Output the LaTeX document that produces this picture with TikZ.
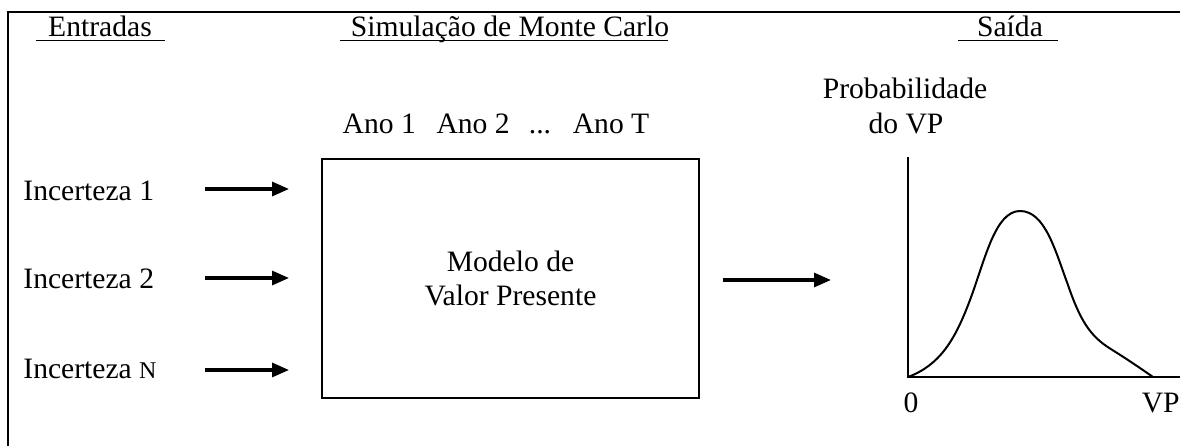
\documentclass[tikz,border=0pt]{standalone}
\usepackage{fontspec}
\setmainfont{Liberation Serif}
\usetikzlibrary{arrows.meta}
\begin{document}
\begin{tikzpicture}[x=0.5pt,y=-0.5pt,
  lbl/.style={anchor=base,inner sep=0pt,font=\fontsize{14.8}{17}\selectfont},
  arr/.style={line width=1.6pt,-{Triangle[length=8.5pt,width=7pt]}},
  uline/.style={line width=0.8pt},
  frame/.style={line width=1pt}]
\useasboundingbox (0,0) rectangle (1180,446);
% outer frame (cropped on right and bottom)
\draw[frame] (8,446) -- (8,12) -- (1180,12);
% headings
\node[lbl] (hin) at (100,36) {Entradas};
\draw[uline] (36,40.5) -- (165,40.5);
\node[lbl] (hsim) at (510,36) {Simulação de Monte Carlo};
\draw[uline] (340,40.5) -- (668,40.5);
\node[lbl] (hout) at (1010,36) {Saída};
\draw[uline] (958,40.5) -- (1058,40.5);
% years
\node[lbl] (anos) at (496,133) {Ano 1\hspace{0.7em}Ano 2\hspace{0.4em} ...\hspace{0.4em} Ano T};
% box
\node[draw,line width=1pt,minimum width=188.5pt,minimum height=119.5pt,inner sep=0pt,
  align=center,font=\fontsize{14.8}{17}\selectfont] (box) at (510.5,278.5)
  {Modelo de\\Valor Presente};
% inputs
\node[lbl,anchor=base west] (i1) at (23,200) {Incerteza 1};
\node[lbl,anchor=base west] (i2) at (23,288) {Incerteza 2};
\node[lbl,anchor=base west] (i3) at (23,378) {Incerteza {\fontsize{12}{14}\selectfont N}};
\coordinate (a1s) at (205,189); \coordinate (a1e) at (289,189);
\coordinate (a2s) at (205,278); \coordinate (a2e) at (289,278);
\coordinate (a3s) at (205,370); \coordinate (a3e) at (289,370);
\draw[arr] (a1s) -- (a1e);
\draw[arr] (a2s) -- (a2e);
\draw[arr] (a3s) -- (a3e);
% output arrow
\coordinate (aos) at (723,280); \coordinate (aoe) at (831,280);
\draw[arr] (aos) -- (aoe);
% graph
\node[lbl] (prob) at (905,98) {Probabilidade};
\node[lbl] (dovp) at (906,133) {do VP};
\coordinate (orig) at (908,377);
\coordinate (ytop) at (908,157);
\coordinate (xend) at (1180,377);
\draw[line width=0.8pt] (ytop) -- (orig) -- (xend);
\draw[line width=1pt] (908,377) .. controls (940,365) and (955,340) .. (970,300)
  .. controls (985,260) and (995,211) .. (1020,211)
  .. controls (1045,211) and (1055,250) .. (1068,285)
  .. controls (1080,320) and (1090,336) .. (1110,348.5)
  .. controls (1130,361) and (1140,368) .. (1153,377);
\node[lbl] (zero) at (911,412) {0};
\node[lbl,anchor=base east] (vp) at (1180,412) {VP};
\end{tikzpicture}
\end{document}
